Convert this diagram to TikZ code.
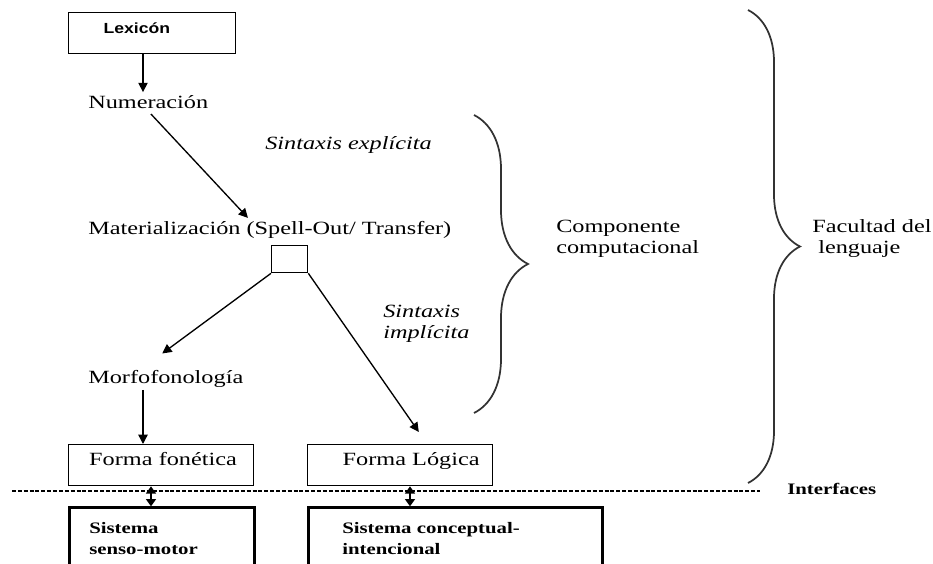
\documentclass[tikz,border=0pt]{standalone}
\usepackage{fontspec}
\setmainfont[FakeStretch=1.3]{Liberation Serif}
\newfontfamily\lexfont[FakeStretch=1.2]{Liberation Sans}
\usepackage{tikz}
\usetikzlibrary{arrows.meta,positioning,calc,decorations.pathreplacing}
\definecolor{bracegray}{RGB}{50,50,50}

\begin{document}
\begin{tikzpicture}[x=0.75pt, y=-0.75pt,
    every node/.style={font=\fontsize{14}{15.75}\selectfont},
    txt/.style={anchor=base west, inner xsep=0pt, inner ysep=2pt, align=left},
    box/.style={draw, line width=1pt, anchor=north west, minimum height=30.75pt,
        inner xsep=0pt, align=left, text height=10pt, text depth=9pt},
    sysbox/.style={draw, line width=1.9pt, anchor=north west, inner ysep=11pt, align=left,
        font=\fontsize{12}{15.75}\selectfont\bfseries},
    arr/.style={-{Triangle[length=7pt,width=7pt]}, line width=1pt},
    dbl/.style={{Triangle[length=5.5pt,width=7.5pt]}-{Triangle[length=5.5pt,width=7.5pt]}, line width=1.3pt},
    brc/.style={decorate, decoration={brace, amplitude=#1}, line width=1.3pt, bracegray}]
    \useasboundingbox (0,0) rectangle (933,564);
    \clip (0,0) rectangle (933,564);

    \coordinate (lx) at (143,0);
    \coordinate (dl) at (151,0);
    \coordinate (dr) at (410,0);

    \node[box, text width=125.25pt, text height=8.5pt, text depth=8.5pt,
        font=\lexfont\bfseries\fontsize{11}{12}\selectfont] (L) at (68,12) {\hspace*{26.25pt}Lexicón};
    \node[txt] (N) at (88,108) {Numeración};
    \node[txt, font=\fontsize{14}{15.75}\selectfont\itshape] (E) at (265,149) {Sintaxis explícita};
    \node[txt] (M) at (88,234) {Materialización (Spell-Out/ Transfer)};
    \node[draw, line width=1pt, anchor=north west, inner sep=0pt,
        minimum width=27pt, minimum height=20.25pt] (T) at (271,245) {};
    \node[txt, font=\fontsize{14}{15.75}\selectfont\itshape] (I) at (383,338) {Sintaxis\\implícita};
    \node[txt] (Mf) at (88,383) {Morfofonología};

    \node[box, text width=138.75pt] (FF) at (68,444) {\hspace*{15.4pt}Forma fonética};
    \node[box, text width=138.75pt] (FL) at (307,444) {\hspace*{26.25pt}Forma Lógica};
    \node[sysbox, inner xsep=15pt, text width=108.75pt, below=15pt of FF.south west, anchor=north west]
        (SM) {Sistema\\senso-motor\\[14pt]};
    \node[sysbox, inner xsep=25.5pt, text width=169.5pt, below=15pt of FL.south west, anchor=north west]
        (SC) {Sistema conceptual-\\intencional\\[14pt]};

    \node[txt] (C) at (556,253) {Componente\\computacional};
    \node[txt] (Fa) at (812,253) {Facultad del\\\hspace*{4.5pt}lenguaje};
    \node[txt, font=\fontsize{12}{15.75}\selectfont\bfseries] (If) at (787,494) {Interfaces};

    % braces
    \draw[brc=40.5pt] (474,115) -- (474,413);
    \draw[brc=39pt] (748,10) -- (748,483);

    % interface line
    \draw[line width=2pt, dash pattern=on 3pt off 1.4pt] (12,491) -- (760,491);

    \path[arr] (L.south -| lx) edge (N.north -| lx)
          (N.south) edge [shorten <=3pt] ($(M.north west)!0.44!(M.north east)$)
          (T.south west) edge [shorten >=17pt] ($(Mf.north west)!0.36!(Mf.north east)$)
          (T.south east) edge [shorten >=11pt] ($(FL.north west)!0.645!(FL.north east)$)
          (Mf.south -| lx) edge (FF.north -| lx);
    \path[dbl] (FF.south -| dl) edge (SM.north -| dl)
          (FL.south -| dr) edge (SC.north -| dr);
\end{tikzpicture}
\end{document}
